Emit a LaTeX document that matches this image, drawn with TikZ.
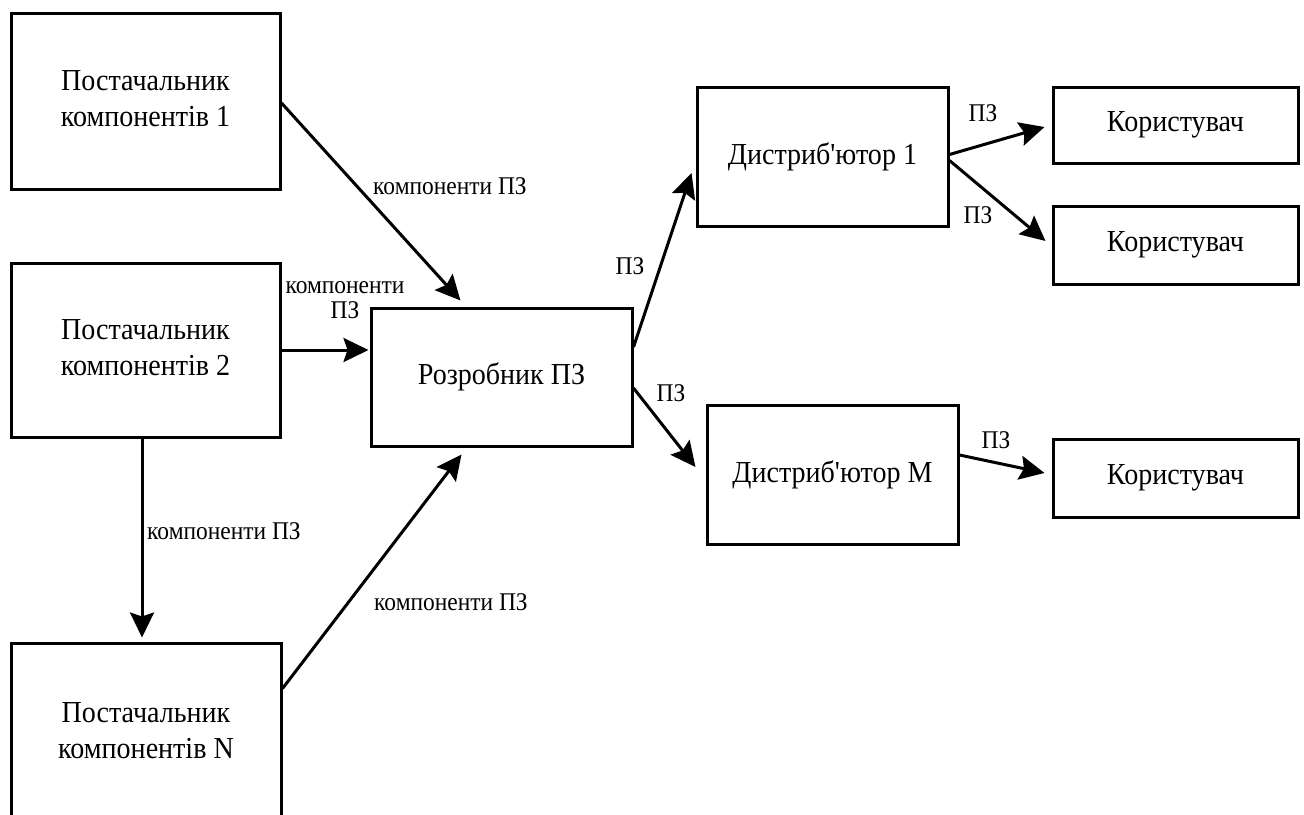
\documentclass[tikz,border=0pt]{standalone}
\usepackage{fontspec}
\setmainfont{Liberation Serif}[FakeStretch=0.92, Ligatures=TeXOff]
\usetikzlibrary{arrows.meta,calc}

\tikzset{
  block/.style={draw, line width=3pt, align=center, inner sep=0pt,
                font=\fontsize{30.5}{36}\selectfont},
  flow/.style={line width=3pt,
               -{Stealth[length=25pt,width=24pt,inset=4pt]}},
  lbl/.style={align=center, inner sep=0pt,
              font=\fontsize{25.5}{25}\selectfont}
}

\begin{document}
\begin{tikzpicture}[x=1pt,y=-1pt]
  \useasboundingbox (0,0) rectangle (1304,814);
  \clip (0,0) rectangle (1304,814);
  \fill[white] (0,0) rectangle (1304,814);

  % suppliers
  \node[block, minimum width=269pt, minimum height=176pt] (s1) at (145.5,101)
    {\raisebox{5pt}{\begin{tabular}{@{}c@{}}Постачальник\\компонентів 1\end{tabular}}};
  \node[block, minimum width=269pt, minimum height=174pt] (s2) at (145.5,350)
    {\raisebox{5pt}{\begin{tabular}{@{}c@{}}Постачальник\\компонентів 2\end{tabular}}};
  \node[block, minimum width=270pt, minimum height=176pt] (sn) at (146,731)
    {Постачальник\\компонентів N};

  % developer
  \node[block, minimum width=261pt, minimum height=138pt] (dev) at (501.5,377)
    {Розробник ПЗ};

  % distributors
  \node[block, minimum width=251pt, minimum height=139pt] (d1) at (822.5,156.5)
    {Дистриб'ютор 1};
  \node[block, minimum width=251pt, minimum height=139pt] (dm) at (832.5,474.5)
    {Дистриб'ютор M};

  % users
  \node[block, minimum width=245pt, minimum height=76pt] (k1) at (1175.5,125)
    {Користувач};
  \node[block, minimum width=245pt, minimum height=78pt] (k2) at (1175.5,245)
    {Користувач};
  \node[block, minimum width=245pt, minimum height=78pt] (k3) at (1175.5,478)
    {Користувач};

  % component flows
  \draw[flow] ($(s1.east)+(0,2)$) -- ($(dev.north west)+(91,-6)$);
  \draw[flow] (s2.east) -- ($(s2.east -| dev.west)+(-1,0)$);
  \draw[flow] ($(s2.south)+(-3.5,0)$) -- ($(sn.north)+(-4,-4)$);
  \draw[flow] ($(sn.north east)+(0,47)$) -- ($(dev.south west)+(92,7)$);

  % software flows
  \draw[flow] ($(dev.east)+(0,-30)$) -- ($(d1.west)+(-4,16.5)$);
  \draw[flow] ($(dev.east)+(0,11)$) -- ($(dm.west)+(-10,-7.5)$);
  \draw[flow] ($(d1.east)+(0,-2)$) -- ($(k1.west)+(-7,2)$);
  \draw[flow] ($(d1.east)+(0,4)$) -- ($(k2.west)+(-6,-4)$);
  \draw[flow] ($(dm.east)+(0,-19.5)$) -- ($(k3.west)+(-7,-5)$);

  % labels
  \node[lbl] (l1) at (450,186) {компоненти ПЗ};
  \node[lbl] (l2) at (345,300) {компоненти\\ПЗ};
  \node[lbl] (l3) at (224,531) {компоненти ПЗ};
  \node[lbl] (l4) at (451,602) {компоненти ПЗ};
  \node[lbl] (l5) at (630,266) {ПЗ};
  \node[lbl] (l6) at (671,393) {ПЗ};
  \node[lbl] (l7) at (983,113) {ПЗ};
  \node[lbl] (l8) at (978,215) {ПЗ};
  \node[lbl] (l9) at (996,440) {ПЗ};
\end{tikzpicture}
\end{document}
